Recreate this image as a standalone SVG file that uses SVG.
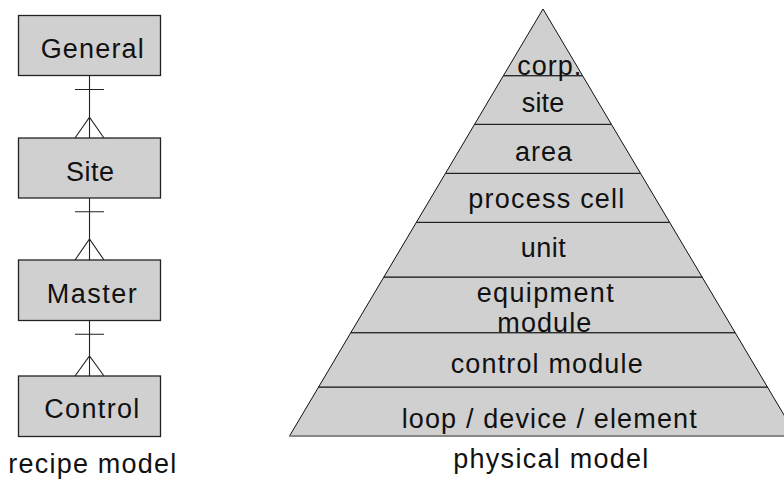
<svg xmlns="http://www.w3.org/2000/svg" width="784" height="479" viewBox="0 0 784 479">
<style>
.box{fill:#d0d0d0;stroke:#222;stroke-width:1.3}
.lay{fill:#d0d0d0;stroke:#111;stroke-width:1}
.t{font-family:"Liberation Sans",Arial,sans-serif;font-size:27px;fill:#111}
.c{fill:none;stroke:#222;stroke-width:1.1}
</style>
<rect width="784" height="479" fill="#fff"/>
<g id="recipe-general"><rect class="box" x="18.5" y="15.5" width="142" height="60"/><text class="t" x="40.7" y="58.3" textLength="103" lengthAdjust="spacing">General</text></g>
<g id="recipe-site"><rect class="box" x="18.5" y="138" width="142" height="60"/><text class="t" x="66" y="181" textLength="48" lengthAdjust="spacing">Site</text></g>
<g id="recipe-master"><rect class="box" x="18.5" y="260" width="142" height="60.5"/><text class="t" x="46.7" y="303.3" textLength="90" lengthAdjust="spacing">Master</text></g>
<g id="recipe-control"><rect class="box" x="18.5" y="376" width="142" height="60.5"/><text class="t" x="44.3" y="418.3" textLength="95" lengthAdjust="spacing">Control</text></g>
<g id="connectors">
<path class="c" d="M89.5 75.5V138M75 89.5H104M75 138L89.5 117.3L104 138"/>
<path class="c" d="M89.5 198V260M75 211.7H104M75 260L89.5 239L104 260"/>
<path class="c" d="M89.5 320.5V376M75 334.3H104M75 376L89.5 356L104 376"/>
</g>
<g id="layer-loop"><polygon class="lay" points="318.6,387 767.4,387 796.5,436 289.5,436"/><line x1="289.5" y1="436" x2="796.5" y2="436" stroke="#888" stroke-width="2"/><text class="t" x="401.7" y="428.3" textLength="295" lengthAdjust="spacing">loop / device / element</text></g>
<g id="layer-control-module"><polygon class="lay" points="350.8,332.7 735.2,332.7 767.4,387 318.6,387"/><text class="t" x="450.7" y="373.3" textLength="192" lengthAdjust="spacing">control module</text></g>
<g id="layer-equipment-module"><polygon class="lay" points="383.9,277 702.1,277 735.2,332.7 350.8,332.7"/><text class="t" x="476.7" y="301.7" textLength="137" lengthAdjust="spacing">equipment</text><text class="t" x="497.3" y="332.3" textLength="94" lengthAdjust="spacing">module</text></g>
<g id="layer-unit"><polygon class="lay" points="416.4,222.3 669.6,222.3 702.1,277 383.9,277"/><text class="t" x="520.7" y="256.7" textLength="45" lengthAdjust="spacing">unit</text></g>
<g id="layer-process-cell"><polygon class="lay" points="445.5,173.3 640.5,173.3 669.6,222.3 416.4,222.3"/><text class="t" x="468.3" y="208.3" textLength="156" lengthAdjust="spacing">process cell</text></g>
<g id="layer-area"><polygon class="lay" points="474.6,124.3 611.4,124.3 640.5,173.3 445.5,173.3"/><text class="t" x="515" y="161" textLength="57" lengthAdjust="spacing">area</text></g>
<g id="layer-site"><polygon class="lay" points="503.4,75.7 582.6,75.7 611.4,124.3 474.6,124.3"/><text class="t" x="521.7" y="111.7" textLength="42.6" lengthAdjust="spacing">site</text></g>
<g id="layer-corp"><polygon class="lay" points="543,9 582.6,75.7 503.4,75.7"/><text class="t" x="517.3" y="75" textLength="64" lengthAdjust="spacing">corp.</text></g>
<text class="t" x="8.3" y="473.3" textLength="168" lengthAdjust="spacing">recipe model</text>
<text class="t" x="453.3" y="468.3" textLength="195" lengthAdjust="spacing">physical model</text>
</svg>
